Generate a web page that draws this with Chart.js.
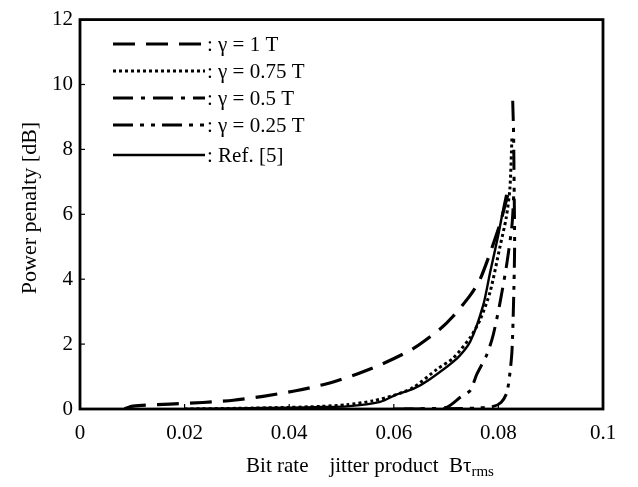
<!DOCTYPE html>
<html>
<head>
<meta charset="UTF-8">
<script src="https://cdn.jsdelivr.net/npm/chart.js@4.4.0/dist/chart.umd.min.js"></script>
<style>
	body { margin: 0; background: #fff; }
	#wrap { width: 638px; height: 487px; }
</style>
</head>
<body>
<div id="wrap"><canvas id="penaltyChart" width="638" height="487"></canvas></div>
<script>
// values
var gamma1X = [0.0085, 0.0101, 0.0172, 0.0235, 0.0293, 0.035, 0.0415, 0.0472, 0.053, 0.058, 0.0637, 0.0688, 0.0713, 0.0746, 0.0765, 0.0784, 0.0803, 0.0813, 0.0818];
var gamma1Y = [0, 0.09, 0.15, 0.2, 0.27, 0.39, 0.57, 0.78, 1.08, 1.4, 1.86, 2.46, 2.85, 3.5, 4.0, 4.8, 5.7, 6.3, 6.6];

var gamma075X = [0.02, 0.03, 0.04, 0.046, 0.051, 0.056, 0.06, 0.0637, 0.0683, 0.0713, 0.0746, 0.0765, 0.0784, 0.0803, 0.0815, 0.0822, 0.0826];
var gamma075Y = [0, 0.02, 0.05, 0.08, 0.13, 0.25, 0.42, 0.66, 1.23, 1.56, 2.2, 2.75, 3.6, 5.0, 5.9, 6.8, 8.4];

var gamma05X = [0.062, 0.067, 0.0702, 0.0727, 0.0746, 0.0759, 0.0778, 0.079, 0.0803, 0.0816, 0.0826, 0.083];
var gamma05Y = [0, 0.01, 0.06, 0.36, 0.57, 1.08, 1.68, 2.28, 3.27, 4.47, 5.67, 6.8];

var gamma025X = [0.06, 0.07, 0.076, 0.079, 0.0805, 0.0816, 0.0822, 0.0826, 0.0829, 0.0831, 0.083, 0.0829, 0.0827];
var gamma025Y = [0, 0.01, 0.03, 0.08, 0.2, 0.5, 1.1, 1.8, 3.3, 5.0, 7.0, 8.5, 9.7];

var refX = [0.02, 0.03, 0.04, 0.046, 0.051, 0.0574, 0.0606, 0.0637, 0.0669, 0.0721, 0.0746, 0.0771, 0.0784, 0.0799, 0.0811, 0.0815];
var refY = [0, 0.02, 0.04, 0.06, 0.08, 0.22, 0.45, 0.62, 0.92, 1.56, 2.07, 3.2, 4.2, 5.3, 6.3, 6.6];

var seriesLabels = ['γ = 1 T', 'γ = 0.75 T', 'γ = 0.5 T', 'γ = 0.25 T', 'Ref. [5]'];
var xTickLabels = ['0', '0.02', '0.04', '0.06', '0.08', '0.1'];
var yTickLabels = ['0', '2', '4', '6', '8', '10', '12'];

var FONT = '"Liberation Serif", "DejaVu Serif", serif';

function toPoints(xs, ys) {
	return xs.map(function (x, i) { return { x: x, y: ys[i] }; });
}

var dashes = [[22, 11], [3, 3], [20, 8, 4, 8], [20, 7, 4, 7, 4, 7], []];
var widths = [3.2, 3, 3, 3, 2.4];
var pointsList = [
	toPoints(gamma1X, gamma1Y),
	toPoints(gamma075X, gamma075Y),
	toPoints(gamma05X, gamma05Y),
	toPoints(gamma025X, gamma025Y),
	toPoints(refX, refY)
];

var datasets = seriesLabels.map(function (lab, i) {
	return {
		label: lab,
		data: pointsList[i],
		showLine: true,
		borderColor: '#000',
		borderWidth: widths[i],
		borderDash: dashes[i],
		pointRadius: 0,
		tension: 0.25,
		fill: false
	};
});

// frame, inward ticks, titles and legend
var decor = {
	id: 'decor',
	afterDraw: function (chart) {
		var ctx = chart.ctx;
		var a = chart.chartArea;
		var xs = chart.scales.x, ys = chart.scales.y;
		ctx.save();
		ctx.strokeStyle = '#000';
		ctx.lineWidth = 2.8;
		ctx.setLineDash([]);
		ctx.strokeRect(a.left, a.top, a.right - a.left, a.bottom - a.top);

		ctx.lineWidth = 1.2;
		xTickLabels.forEach(function (t, i) {
			var px = xs.getPixelForValue(i * 0.02);
			ctx.beginPath(); ctx.moveTo(px, a.bottom); ctx.lineTo(px, a.bottom - 5); ctx.stroke();
		});
		yTickLabels.forEach(function (t, i) {
			var py = ys.getPixelForValue(i * 2);
			ctx.beginPath(); ctx.moveTo(a.left, py); ctx.lineTo(a.left + 5, py); ctx.stroke();
		});

		ctx.fillStyle = '#000';
		// y title
		ctx.save();
		ctx.translate(30, 208);
		ctx.rotate(-Math.PI / 2);
		ctx.font = '22px ' + FONT;
		ctx.textAlign = 'center';
		ctx.textBaseline = 'middle';
		ctx.fillText('Power penalty [dB]', 0, 0);
		ctx.restore();

		// x title with subscript
		ctx.font = '21px ' + FONT;
		ctx.textAlign = 'left';
		ctx.textBaseline = 'alphabetic';
		var t1 = 'Bit rate    jitter product  Bτ';
		var w1 = ctx.measureText(t1).width;
		ctx.font = '15px ' + FONT;
		var w2 = ctx.measureText('rms').width;
		var sx = 370 - (w1 + w2) / 2;
		ctx.font = '21px ' + FONT;
		ctx.fillText(t1, sx, 472);
		ctx.font = '15px ' + FONT;
		ctx.fillText('rms', sx + w1, 476);

		// legend
		var lx0 = 113, lx1 = 205, ly = 44, step = 27;
		chart.data.datasets.forEach(function (ds, i) {
			var y = ly + i * step + (i === 4 ? 3 : 0);
			ctx.strokeStyle = '#000';
			ctx.lineWidth = ds.borderWidth;
			ctx.setLineDash(ds.borderDash);
			ctx.beginPath(); ctx.moveTo(lx0, y); ctx.lineTo(lx1, y); ctx.stroke();
			ctx.setLineDash([]);
			ctx.font = '21px ' + FONT;
			ctx.textBaseline = 'middle';
			ctx.fillText(': ' + ds.label, lx1 + 2, y + 1);
		});
		ctx.restore();
	}
};

new Chart(document.getElementById('penaltyChart').getContext('2d'), {
	type: 'scatter',
	data: { datasets: datasets },
	options: {
		responsive: false,
		animation: false,
		layout: { padding: { top: 10, right: 35, left: 0, bottom: 0 } },
		plugins: { legend: { display: false }, tooltip: { enabled: false } },
		scales: {
			x: {
				type: 'linear',
				min: 0, max: 0.1,
				grid: { display: false, drawTicks: false },
				border: { display: false },
				ticks: {
					stepSize: 0.02,
					color: '#000',
					padding: 12,
					maxRotation: 0,
					font: { family: FONT, size: 21 },
					callback: function (v) { return xTickLabels[Math.round(v / 0.02)]; }
				},
				afterFit: function (s) { s.height = 78; }
			},
			y: {
				min: 0, max: 12,
				grid: { display: false, drawTicks: false },
				border: { display: false },
				ticks: {
					stepSize: 2,
					color: '#000',
					padding: 7,
					font: { family: FONT, size: 21 },
					callback: function (v) { return yTickLabels[Math.round(v / 2)]; }
				},
				afterFit: function (s) { s.width = 80; }
			}
		}
	},
	plugins: [decor]
});
</script>
</body>
</html>
